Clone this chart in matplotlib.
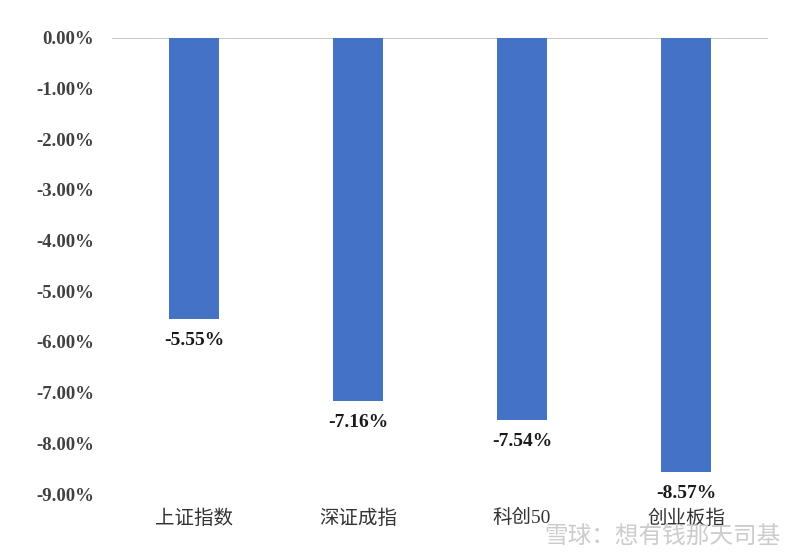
import matplotlib.pyplot as plt
import matplotlib.ticker as ticker

categories = ["上证指数", "深证成指", "科创50", "创业板指"]
returns = [-5.55, -7.16, -7.54, -8.57]
y_ticks = [0, -1, -2, -3, -4, -5, -6, -7, -8, -9]

plt.rcParams['font.family'] = ['Liberation Serif', 'Noto Sans CJK SC']

fig = plt.figure(figsize=(8, 5.56), dpi=100)
ax = fig.add_axes([0.14, 0.1115, 0.82, 0.8202])

x = range(len(categories))
bars = ax.bar(x, returns, width=0.305, color='#4472C4', zorder=2)
ax.axhline(0, color='#BFBFBF', lw=1.2, zorder=1)

for xi, v in zip(x, returns):
    ax.annotate(f"{v:.2f}%", (xi, v), xytext=(0, -9.5), textcoords='offset points',
                ha='center', va='top', fontsize=14, fontweight='bold', color='#1a1a1a')

ax.set_xlim(-0.5, 3.5)
ax.set_ylim(-9, 0)
ax.set_yticks(y_ticks)
ax.yaxis.set_major_formatter(ticker.FuncFormatter(lambda v, p: f"{v:.2f}%"))
ax.set_xticks(list(x))
ax.set_xticklabels(categories, fontsize=14, color='#333333')
for lab in ax.get_yticklabels():
    lab.set_fontweight('bold')
    lab.set_fontsize(13.5)
    lab.set_color('#404040')
ax.tick_params(axis='y', length=0, pad=13)
ax.tick_params(axis='x', length=0, pad=11)
for s in ax.spines.values():
    s.set_visible(False)

fig.text(0.975, 0.035, "雪球：想有钱那天司基", ha='right', va='center',
         fontsize=17, color='#cccccc', family=['Noto Sans CJK SC'])

fig.savefig("out.png", dpi=100)
